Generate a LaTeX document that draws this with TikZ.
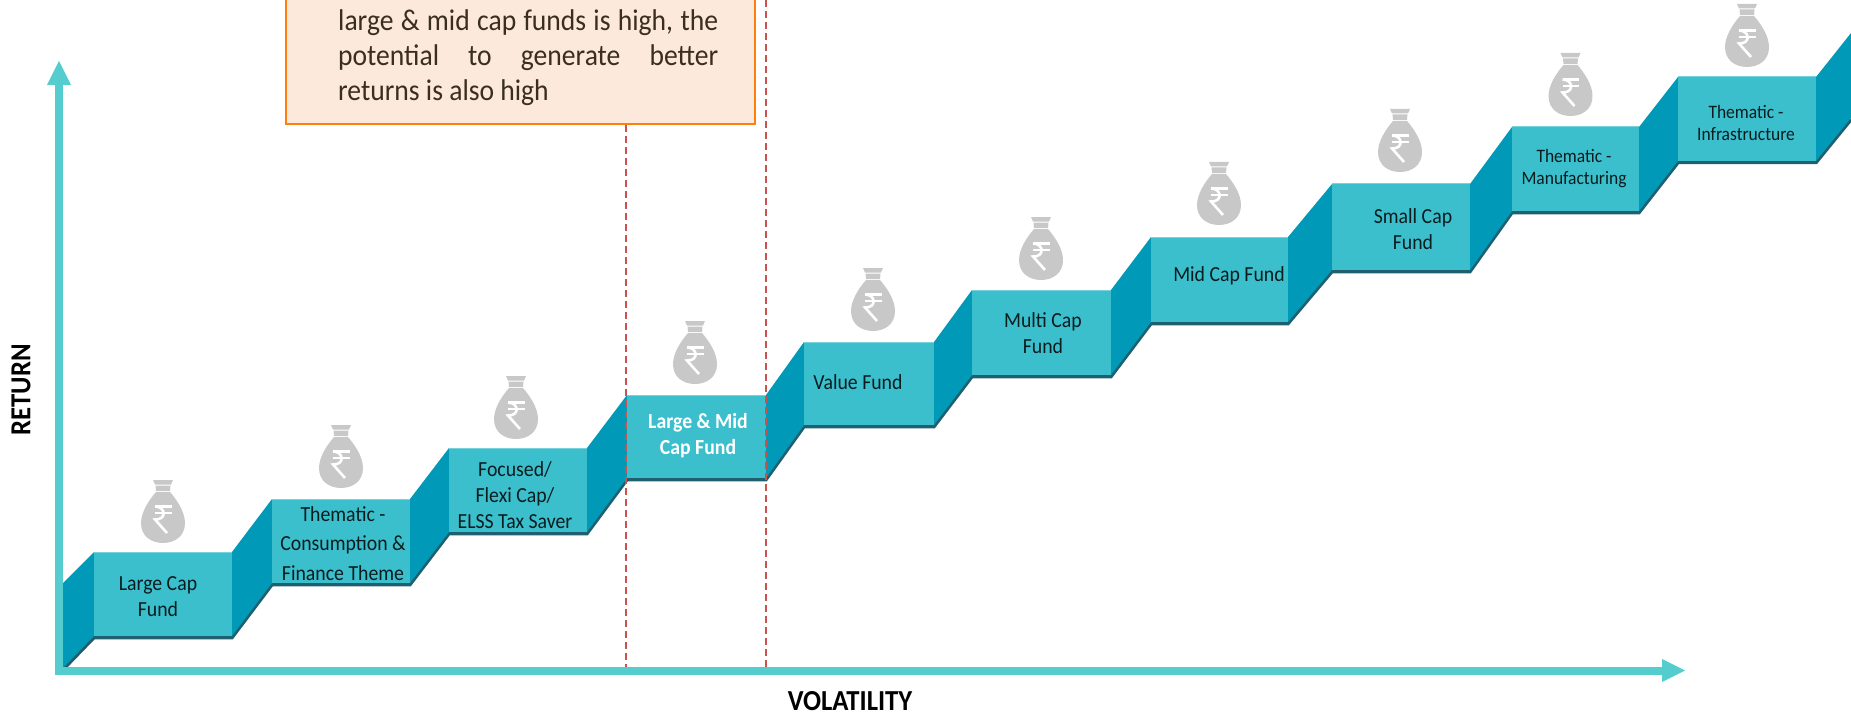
\documentclass[tikz,border=0pt]{standalone}
\usepackage{fontspec}
\setmainfont[FakeStretch=0.92]{Carlito}
\definecolor{front}{HTML}{3CBFCC}
\definecolor{side}{HTML}{0099B8}
\definecolor{undercol}{HTML}{1F6070}
\definecolor{axiscol}{HTML}{55CDCF}
\definecolor{bagcol}{HTML}{C8C8C8}
\definecolor{redline}{HTML}{C9524F}
\definecolor{boxfill}{HTML}{FDE9DC}
\definecolor{boxline}{HTML}{FF7F0E}
\definecolor{boxtext}{HTML}{3A2F1F}
\tikzset{
  stepface/.style={fill=front,draw=none,inner sep=0pt,outer sep=0pt,anchor=north west},
  steplabel/.style={align=center,inner sep=0pt,font=\fontsize{21.5}{26}\selectfont,text=black!85!front},
  smalllabel/.style={steplabel,font=\fontsize{19}{22}\selectfont},
  sidepanel/.style={fill=side,draw=none},
  guide/.style={draw=redline,line width=1.5pt,dash pattern=on 7pt off 4pt},
  axisline/.style={draw=axiscol,line width=8pt},
  axisgrey/.style={fill=axiscol,draw=none},
  moneybag/.pic={
    \fill[bagcol] (-10,0) -- (10,0) -- (8,4.5) -- (-8,4.5) -- cycle;
    \fill[bagcol] (-7.5,5.5) -- (7.5,5.5) -- (7,11) -- (-7,11) -- cycle;
    \fill[bagcol] (-7,12) -- (7,12) .. controls (14,20) and (22,32) .. (22,43)
       .. controls (22,56) and (12,63) .. (0,63)
       .. controls (-12,63) and (-22,56) .. (-22,43)
       .. controls (-22,32) and (-14,20) .. (-7,12) -- cycle;
    \draw[white,line width=2.4pt] (-8,26.5) -- (8.5,26.5);
    \draw[white,line width=2.4pt] (-8,33) -- (8.5,33);
    \draw[white,line width=2.6pt] (-8,26.5) .. controls (3,26.5) and (4,40) .. (-8,39.5) -- (4,53);
  }
}
\begin{document}
\begin{tikzpicture}[x=1pt,y=-1pt]
\useasboundingbox (0,0) rectangle (1851,714);
\clip (0,0) rectangle (1851,714);
\coordinate (startTop) at (63,583);
\coordinate (startBot) at (63,668);
\coordinate (endTop) at (1851,33);
\coordinate (endBot) at (1851,118);
% step faces
\node[stepface,minimum width=138pt,minimum height=84pt] (s1) at (94,552) {};
\node[stepface,minimum width=138pt,minimum height=84pt] (s2) at (272,499) {};
\node[stepface,minimum width=138pt,minimum height=84pt] (s3) at (449,448) {};
\node[stepface,minimum width=139pt,minimum height=83pt] (s4) at (627,395) {};
\node[stepface,minimum width=130pt,minimum height=83pt] (s5) at (804,342) {};
\node[stepface,minimum width=139pt,minimum height=85pt] (s6) at (972,290) {};
\node[stepface,minimum width=137pt,minimum height=85pt] (s7) at (1151,237) {};
\node[stepface,minimum width=138pt,minimum height=86pt] (s8) at (1332,184) {};
\node[stepface,minimum width=127pt,minimum height=84pt] (s9) at (1512,127) {};
\node[stepface,minimum width=138pt,minimum height=84pt] (s10) at (1678,77) {};
% dark underside
\draw[draw=undercol,line width=3.5pt] ([yshift=-1.5pt]startBot) -- ([yshift=-1.5pt]s1.south west) -- ([yshift=-1.5pt]s1.south east)
  -- ([yshift=-1.5pt]s2.south west) -- ([yshift=-1.5pt]s2.south east) -- ([yshift=-1.5pt]s3.south west) -- ([yshift=-1.5pt]s3.south east)
  -- ([yshift=-1.5pt]s4.south west) -- ([yshift=-1.5pt]s4.south east) -- ([yshift=-1.5pt]s5.south west) -- ([yshift=-1.5pt]s5.south east)
  -- ([yshift=-1.5pt]s6.south west) -- ([yshift=-1.5pt]s6.south east) -- ([yshift=-1.5pt]s7.south west) -- ([yshift=-1.5pt]s7.south east)
  -- ([yshift=-1.5pt]s8.south west) -- ([yshift=-1.5pt]s8.south east) -- ([yshift=-1.5pt]s9.south west) -- ([yshift=-1.5pt]s9.south east)
  -- ([yshift=-1.5pt]s10.south west) -- ([yshift=-1.5pt]s10.south east) -- ([yshift=-1.5pt]endBot);
% side panels
\fill[sidepanel] (startTop) -- (s1.north west) -- (s1.south west) -- (startBot) -- cycle;
\fill[sidepanel] (s1.north east) -- (s2.north west) -- (s2.south west) -- (s1.south east) -- cycle;
\fill[sidepanel] (s2.north east) -- (s3.north west) -- (s3.south west) -- (s2.south east) -- cycle;
\fill[sidepanel] (s3.north east) -- (s4.north west) -- (s4.south west) -- (s3.south east) -- cycle;
\fill[sidepanel] (s4.north east) -- (s5.north west) -- (s5.south west) -- (s4.south east) -- cycle;
\fill[sidepanel] (s5.north east) -- (s6.north west) -- (s6.south west) -- (s5.south east) -- cycle;
\fill[sidepanel] (s6.north east) -- (s7.north west) -- (s7.south west) -- (s6.south east) -- cycle;
\fill[sidepanel] (s7.north east) -- (s8.north west) -- (s8.south west) -- (s7.south east) -- cycle;
\fill[sidepanel] (s8.north east) -- (s9.north west) -- (s9.south west) -- (s8.south east) -- cycle;
\fill[sidepanel] (s9.north east) -- (s10.north west) -- (s10.south west) -- (s9.south east) -- cycle;
\fill[sidepanel] (s10.north east) -- (endTop) -- (endBot) -- (s10.south east) -- cycle;
% redraw faces above the underside
\foreach \n in {s1,s2,s3,s4,s5,s6,s7,s8,s9,s10}{
  \fill[front] (\n.north west) rectangle (\n.south east);
  \draw[front!70!white,line width=1pt] (\n.north west) -- (\n.north east);
}
% bags
\path (163,480) pic {moneybag};
\path (341,425) pic {moneybag};
\path (516,376) pic {moneybag};
\path (695,321) pic {moneybag};
\path (873,268) pic {moneybag};
\path (1041,217) pic {moneybag};
\path (1219,162) pic {moneybag};
\path (1400,109) pic {moneybag};
\path (1570.5,53) pic {moneybag};
\path (1747,4) pic {moneybag};
% guides
\coordinate (gLtop) at (626,125);
\coordinate (gLbot) at (626,668);
\coordinate (gRtop) at (766,0);
\coordinate (gRbot) at (766,668);
\draw[guide] (gLtop) -- (gLbot);
\draw[guide] (gRtop) -- (gRbot);
% axes
\coordinate (origin) at (59,670.5);
\coordinate (yend) at (59,84);
\coordinate (xend) at (1663,670.5);
\draw[axisline,line cap=round] (yend) -- (origin) -- (xend);
\fill[axisgrey] (47,85) -- (59,61) -- (71,85) -- cycle;
\fill[axisgrey] (1662,659) -- (1685,670.5) -- (1662,682) -- cycle;
% step labels
\node[steplabel] (l1) at (158,597) {Large Cap\\Fund};
\node[steplabel] (l2) at (343,543.5) {Thematic -\\[3.5pt]Consumption \&\\[3.5pt]Finance Theme};
\node[steplabel] (l3) at (515,495) {Focused/\\Flexi Cap/\\ELSS Tax Saver};
\node[steplabel,text=white,font=\fontsize{21.5}{26}\selectfont\bfseries] (l4) at (698,436) {Large \& Mid\\Cap Fund};
\node[steplabel] (l5) at (858,382) {Value Fund};
\node[steplabel] (l6) at (1043,333.5) {Multi Cap\\Fund};
\node[steplabel] (l7) at (1229,276) {Mid Cap Fund};
\node[steplabel] (l8) at (1413,229) {Small Cap\\Fund};
\node[smalllabel] (l9) at (1574,168.5) {Thematic -\\Manufacturing};
\node[smalllabel] (l10) at (1746,122.5) {Thematic -\\Infrastructure};
% callout
\node[draw=boxline,fill=boxfill,line width=1.5pt,anchor=south west,inner sep=0pt,minimum width=469pt,minimum height=200pt] (callout) at (285,125) {};
\node[anchor=north west,inner sep=0pt,text width=380pt,text=boxtext,align=justify,font=\fontsize{30}{35}\selectfont] (calltext) at (338,9) {large \& mid cap funds is high, the\linebreak potential to generate better\linebreak returns is also high};
% axis titles
\node[font=\fontsize{29}{30}\selectfont\bfseries,rotate=90,inner sep=0pt] (ret) at (21,390) {RETURN};
\node[font=\fontsize{29}{30}\selectfont\bfseries,inner sep=0pt] (vol) at (850,701) {VOLATILITY};
\end{tikzpicture}
\end{document}
